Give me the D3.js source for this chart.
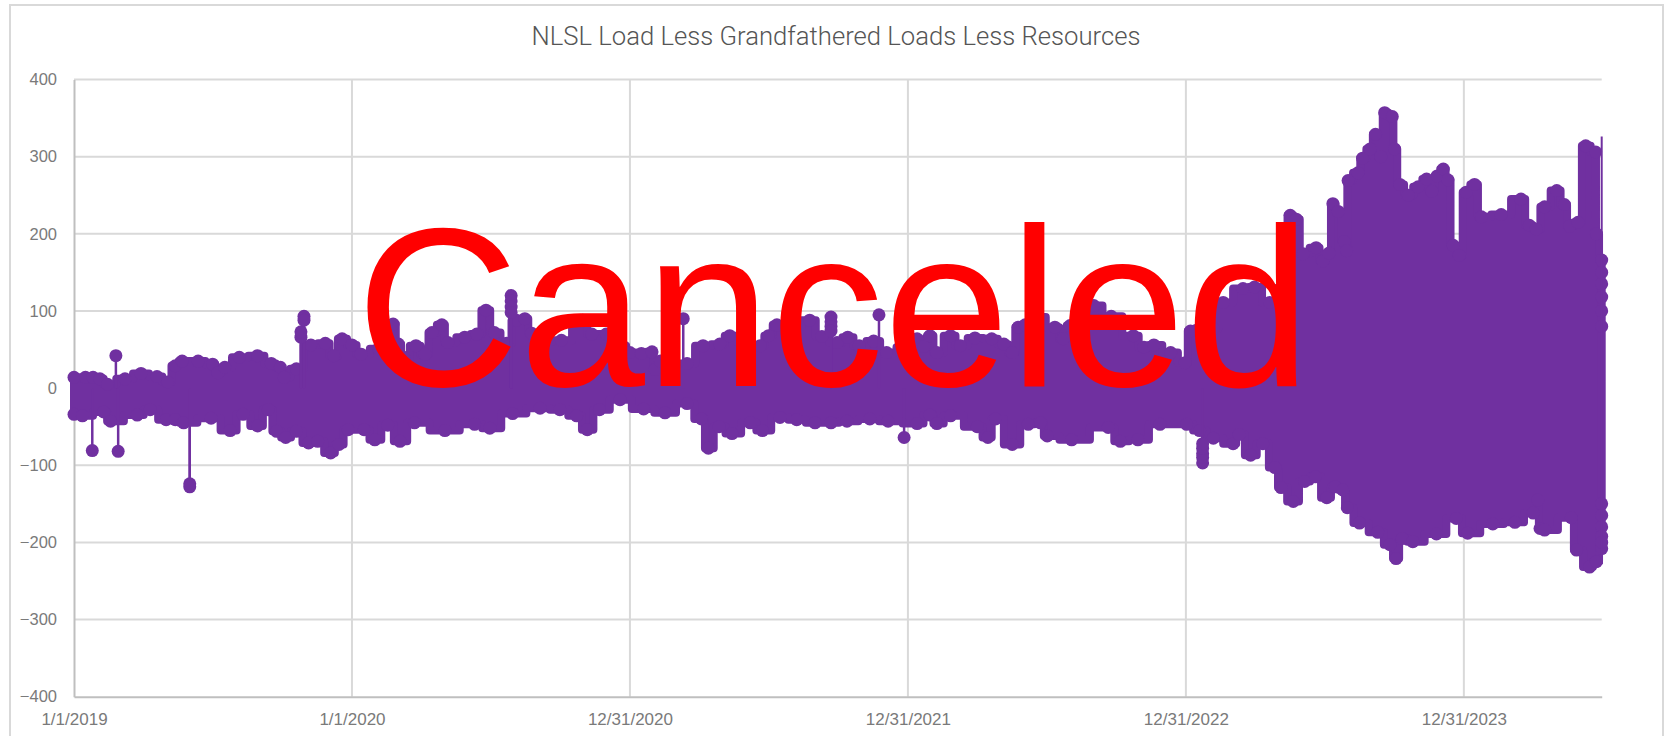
<!DOCTYPE html>
<html>
<head>
<meta charset="utf-8">
<title>NLSL Load Less Grandfathered Loads Less Resources</title>
<script src="https://cdn.jsdelivr.net/npm/d3@7"></script>
<style>
  html, body { margin: 0; padding: 0; background: #fff; overflow: hidden; }
  svg { display: block; }
</style>
</head>
<body>
<div id="chart"></div>
<script>
/* Values read off the picture. The x values are days since 1/1/2019; the real
   series is too dense to read point by point, so highs and lows are its outline. */
var chartTitle = "NLSL Load Less Grandfathered Loads Less Resources";
var stampText = "Canceled";

var xTickDays = [0, 365, 730, 1095, 1460, 1825];
var xTickLabels = ["1/1/2019", "1/1/2020", "12/31/2020", "12/31/2021", "12/31/2022", "12/31/2023"];
var yTicks = [-400, -300, -200, -100, 0, 100, 200, 300, 400];

var highDays = [0, 15, 25, 34, 44, 67, 88, 109, 123, 133, 142, 163, 182, 189, 198, 217, 241, 259, 271, 276, 292, 311, 330, 341, 352, 365, 377, 400, 419, 426, 433, 449, 461, 470, 483, 491, 513, 529, 541, 552, 568, 581, 592, 601, 615, 640, 668, 680, 699, 720, 730, 745, 759, 763, 770, 805, 826, 848, 861, 880, 901, 912, 923, 945, 966, 982, 1002, 1016, 1031, 1050, 1067, 1093, 1107, 1116, 1124, 1133, 1151, 1164, 1183, 1205, 1221, 1232, 1240, 1249, 1264, 1288, 1299, 1308, 1325, 1339, 1362, 1391, 1405, 1418, 1440, 1459, 1466, 1480, 1496, 1509, 1535, 1550, 1570, 1590, 1597, 1605, 1614, 1631, 1640, 1648, 1653, 1660, 1668, 1671, 1673, 1686, 1692, 1702, 1709, 1716, 1721, 1731, 1734, 1741, 1752, 1765, 1776, 1783, 1790, 1798, 1804, 1811, 1819, 1828, 1839, 1848, 1874, 1900, 1911, 1920, 1931, 1947, 1957, 1964, 1975, 1985, 1998, 1999, 2006];
var highValues = [14, 14, 14, 12, 5, 12, 19, 15, 8, 29, 35, 35, 31, 20, 27, 40, 42, 32, 27, 14, 25, 56, 58, 42, 64, 56, 44, 51, 83, 57, 40, 55, 44, 72, 82, 59, 66, 70, 101, 72, 58, 88, 90, 71, 60, 62, 88, 70, 70, 55, 46, 45, 47, 24, 35, 32, 55, 57, 68, 60, 55, 68, 82, 80, 88, 67, 59, 66, 55, 61, 46, 53, 64, 54, 68, 46, 68, 55, 65, 64, 57, 46, 79, 82, 92, 79, 64, 81, 100, 107, 93, 68, 53, 56, 46, 33, 74, 78, 77, 111, 129, 131, 111, 130, 224, 219, 174, 182, 165, 175, 239, 229, 190, 178, 269, 279, 298, 310, 329, 300, 357, 352, 310, 264, 250, 261, 271, 255, 275, 284, 270, 185, 172, 254, 264, 222, 225, 245, 211, 206, 235, 256, 238, 210, 215, 314, 306, 200, 166];

var lowDays = [0, 11, 39, 48, 83, 100, 121, 133, 144, 180, 205, 222, 241, 255, 266, 278, 292, 308, 320, 337, 348, 360, 381, 395, 412, 428, 447, 487, 526, 546, 576, 612, 638, 660, 674, 690, 717, 748, 776, 805, 824, 833, 847, 864, 888, 904, 927, 949, 973, 994, 1015, 1045, 1069, 1107, 1124, 1133, 1151, 1186, 1200, 1210, 1232, 1253, 1269, 1278, 1310, 1358, 1374, 1397, 1426, 1461, 1478, 1496, 1522, 1530, 1545, 1561, 1577, 1585, 1601, 1616, 1630, 1645, 1656, 1666, 1672, 1688, 1712, 1728, 1736, 1744, 1758, 1789, 1815, 1830, 1863, 1892, 1916, 1922, 1925, 1931, 1966, 1973, 1990, 1999, 2006];
var lowValues = [-34, -36, -31, -43, -35, -28, -41, -41, -45, -39, -55, -34, -49, -28, -56, -64, -56, -71, -69, -84, -73, -54, -54, -67, -48, -69, -45, -55, -47, -52, -33, -26, -28, -36, -54, -28, -15, -27, -32, -20, -40, -78, -50, -59, -45, -55, -38, -41, -45, -45, -43, -40, -43, -46, -35, -46, -36, -50, -64, -40, -73, -47, -45, -62, -67, -51, -69, -67, -47, -47, -55, -65, -72, -60, -87, -72, -103, -129, -147, -121, -115, -142, -128, -132, -155, -175, -187, -203, -221, -195, -199, -189, -169, -188, -176, -174, -162, -145, -182, -184, -168, -210, -232, -225, -208];

// isolated readings that stick out of the band on a thin stem
var spikeDays = [24, 55, 58, 152, 152, 298, 298, 302, 302, 574, 574, 574, 574, 800, 994, 994, 994, 994, 1057, 1090, 1482, 1482, 1482, 1482, 1482];
var spikeValues = [-81, 42, -82, -128, -124, 66, 73, 93, 88, 120, 113, 105, 98, 90, 92, 86, 80, 74, 95, -64, -97, -90, -85, -78, -72];

// markers that poke out along the right edge of the series
var edgeDays = [2006, 2006, 2006, 2006, 2006, 2006, 2006, 2006, 2006, 2006];
var edgeValues = [150, 135, 118, 100, 80, -150, -165, -180, -192, -200];

// the last reading has no visible marker, only the thin line
var lastDay = 2006;
var lastTop = 326;
var lastBottom = -228;

var W = 1667, H = 741;
var left = 74, right = 1601.7, top_ = 79.5, bottom = 696.7;
var purple = "#7030A0", grid = "#D9D9D9", axisCol = "#BFBFBF", textCol = "#7A7A7A";
var markerR = 6.5;

var svg = d3.select("#chart").append("svg").attr("width", W).attr("height", H);
svg.append("rect").attr("width", W).attr("height", H).attr("fill", "#fff");

// chart frame
svg.append("path")
  .attr("d", "M10,736V5H1663V736")
  .attr("fill", "none").attr("stroke", grid).attr("stroke-width", 2);

var x = d3.scaleLinear().domain([0, 2006]).range([left, right]);
var y = d3.scaleLinear().domain([-400, 400]).range([bottom, top_]);

// gridlines
svg.append("g").selectAll("line").data(yTicks.slice(1)).join("line")
  .attr("x1", left).attr("x2", right)
  .attr("y1", function (d) { return y(d); }).attr("y2", function (d) { return y(d); })
  .attr("stroke", grid).attr("stroke-width", 2);
svg.append("g").selectAll("line").data(xTickDays.slice(1)).join("line")
  .attr("x1", function (d) { return x(d); }).attr("x2", function (d) { return x(d); })
  .attr("y1", top_).attr("y2", bottom)
  .attr("stroke", grid).attr("stroke-width", 2);

// axes
var yAxis = d3.axisLeft(y).tickValues(yTicks).tickSize(0).tickPadding(17);
var xAxis = d3.axisBottom(x).tickValues(xTickDays).tickSize(0).tickPadding(16)
  .tickFormat(function (d, i) { return xTickLabels[i]; });
var gy = svg.append("g").attr("transform", "translate(" + left + ",0)").call(yAxis);
var gx = svg.append("g").attr("transform", "translate(0," + bottom + ")").call(xAxis);
gy.selectAll("text").attr("font-size", 16.5);
gx.selectAll("text").attr("font-size", 17);
[gx, gy].forEach(function (g) {
  g.select(".domain").attr("stroke", axisCol).attr("stroke-width", 2);
  g.selectAll("text").attr("fill", textCol)
    .attr("font-family", "'Liberation Sans', Arial, sans-serif");
});

// band: stepped outline of the series, markers sit on top of it
var highPts = highDays.map(function (d, i) { return [x(d), y(highValues[i])]; });
var lowPts = lowDays.map(function (d, i) { return [x(d), y(lowValues[i])]; });
var edgePts = edgeDays.map(function (d, i) { return [x(d), y(edgeValues[i])]; });
var line = d3.line().curve(d3.curveStep);
svg.append("path")
  .attr("d", line(highPts.concat(lowPts.slice().reverse())) + "Z")
  .attr("fill", purple).attr("stroke", purple)
  .attr("stroke-width", 8).attr("stroke-linejoin", "round");
svg.append("g").selectAll("circle").data(highPts.concat(lowPts, edgePts)).join("circle")
  .attr("cx", function (d) { return d[0]; })
  .attr("cy", function (d) { return d[1]; })
  .attr("r", markerR).attr("fill", purple);

// stems and markers of the outliers
svg.append("g").selectAll("line").data(spikeDays).join("line")
  .attr("x1", function (d) { return x(d); }).attr("x2", function (d) { return x(d); })
  .attr("y1", y(0)).attr("y2", function (d, i) { return y(spikeValues[i]); })
  .attr("stroke", purple).attr("stroke-width", 2.5);
svg.append("g").selectAll("circle").data(spikeDays).join("circle")
  .attr("cx", function (d) { return x(d); })
  .attr("cy", function (d, i) { return y(spikeValues[i]); })
  .attr("r", markerR).attr("fill", purple);

svg.append("line")
  .attr("x1", x(lastDay)).attr("x2", x(lastDay))
  .attr("y1", y(lastTop)).attr("y2", y(lastBottom))
  .attr("stroke", purple).attr("stroke-width", 2);

// title
svg.append("text")
  .attr("x", 836).attr("y", 45)
  .attr("text-anchor", "middle")
  .attr("font-family", "Roboto, sans-serif").attr("font-size", 26).attr("font-weight", 300)
  .attr("fill", "#555")
  .attr("textLength", 609).attr("lengthAdjust", "spacingAndGlyphs")
  .text(chartTitle);

// stamp across the plot
svg.append("text")
  .attr("x", 833.5).attr("y", 386)
  .attr("text-anchor", "middle")
  .attr("font-family", "'Liberation Sans', Arial, sans-serif").attr("font-size", 226)
  .attr("fill", "#FF0000")
  .text(stampText);
</script>
</body>
</html>
